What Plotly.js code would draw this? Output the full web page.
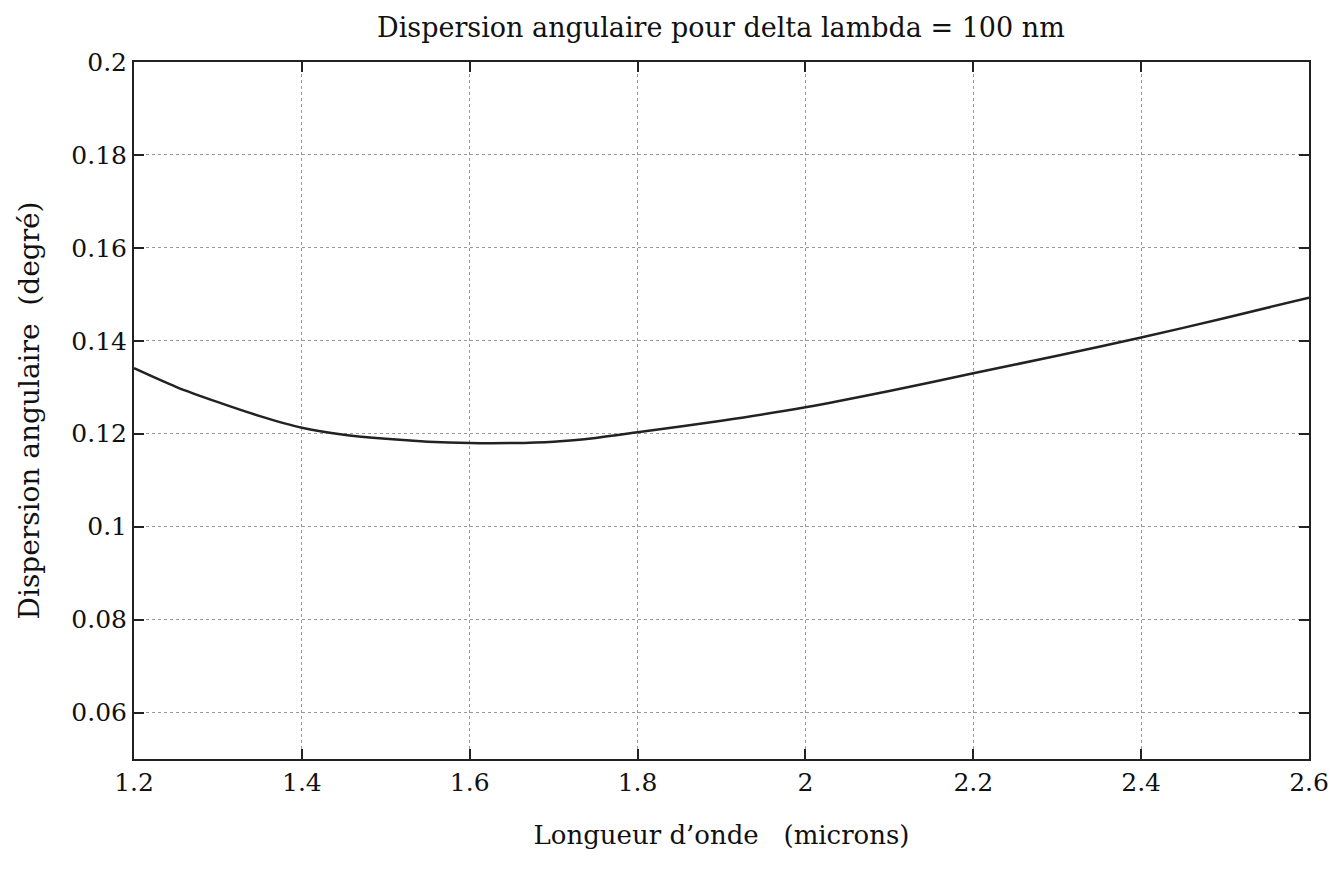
<!DOCTYPE html>
<html>
<head>
<meta charset="utf-8">
<script src="https://cdn.plot.ly/plotly-3.0.1.min.js"></script>
<style>html,body{margin:0;padding:0;background:#fff;}#chart{width:1340px;height:869px;}</style>
</head>
<body>
<div id="chart"></div>
<script>
const wavelength = [1.2, 1.25, 1.3, 1.35, 1.4, 1.45, 1.5, 1.55, 1.6, 1.65, 1.7, 1.75, 1.8, 1.9, 2.0, 2.1, 2.2, 2.3, 2.4, 2.5, 2.6];
const dispersion = [0.1341, 0.1301, 0.1268, 0.1238, 0.1213, 0.1198, 0.1189, 0.1183, 0.1180, 0.1180, 0.1183, 0.1191, 0.1203, 0.1228, 0.1257, 0.1292, 0.1330, 0.1368, 0.1407, 0.1449, 0.1493];
const xTicks = [1.2, 1.4, 1.6, 1.8, 2, 2.2, 2.4, 2.6];
const xTickLabels = ["1.2", "1.4", "1.6", "1.8", "2", "2.2", "2.4", "2.6"];
const yTicks = [0.06, 0.08, 0.1, 0.12, 0.14, 0.16, 0.18, 0.2];
const yTickLabels = ["0.06", "0.08", "0.1", "0.12", "0.14", "0.16", "0.18", "0.2"];
const titleText = 'Dispersion angulaire pour delta lambda = 100 nm';
const xTitleText = 'Longueur d\u2019onde\u00a0\u00a0\u00a0(microns)';
const yTitleText = 'Dispersion angulaire\u00a0\u00a0(degré)';

const font = "'DejaVu Serif', 'Liberation Serif', serif";

const trace = {
  x: wavelength, y: dispersion, type: 'scatter', mode: 'lines',
  line: {color: '#222', width: 2.5, shape: 'spline', smoothing: 0.8}, hoverinfo: 'skip'
};

const axisCommon = {
  showline: true, linecolor: '#222', linewidth: 2, mirror: 'ticks',
  ticks: 'inside', ticklen: 10, tickwidth: 2, tickcolor: '#222',
  showgrid: true, gridcolor: '#999', griddash: 'dot', gridwidth: 1,
  zeroline: false, tickfont: {family: font, size: 25, color: '#111'}
};

const layout = {
  width: 1340, height: 869,
  paper_bgcolor: '#fff', plot_bgcolor: '#fff',
  margin: {l: 134, r: 31, t: 62, b: 110},
  showlegend: false,
  title: {text: titleText, font: {family: font, size: 27, color: '#111'}, x: 0.538, xanchor: 'center', y: 0.968, yanchor: 'middle'},
  xaxis: Object.assign({}, axisCommon, {
    range: [1.2, 2.6], tickmode: 'array', tickvals: xTicks, ticktext: xTickLabels,
    title: {text: xTitleText, font: {family: font, size: 26, color: '#111'}, standoff: 30}
  }),
  yaxis: Object.assign({}, axisCommon, {
    range: [0.05, 0.2], tickmode: 'array', tickvals: yTicks, ticktext: yTickLabels
  }),
  annotations: [{
    text: yTitleText, textangle: -90, xref: 'paper', yref: 'paper',
    x: 0, y: 0.5, xanchor: 'center', yanchor: 'middle', xshift: -105, yshift: 0,
    showarrow: false, font: {family: font, size: 28, color: '#111'}
  }]
};

Plotly.newPlot('chart', [trace], layout, {displayModeBar: false, staticPlot: true});
</script>
</body>
</html>
